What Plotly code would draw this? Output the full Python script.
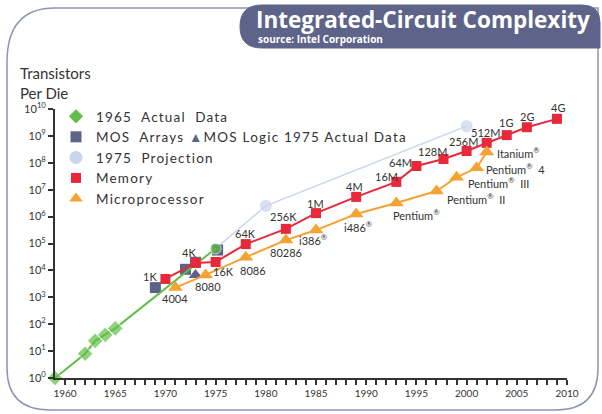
import math
import plotly.graph_objects as go

# ---------------- data ----------------
moore65_years = [1959, 1962, 1963, 1964, 1965, 1975]
moore65_vals = [1, 8, 24, 40, 70, 65000]

mos_array_years = [1969, 1972, 1973, 1975.2]
mos_array_vals = [2300, 11000, 20000, 57000]

mos_logic_years = [1973]
mos_logic_vals = [6800]

proj_years = [1975, 1980, 2000]
proj_vals = [65000, 2.5e6, 2.3e9]

mem_years = [1970, 1973, 1975, 1978, 1982, 1985, 1989, 1993, 1995, 1997.7, 2000, 2002, 2004, 2006, 2009]
mem_vals = [4800, 19000, 20500, 95000, 350000, 1.35e6, 5.4e6, 1.95e7, 7.6e7, 1.38e8, 2.75e8, 5.5e8, 1.07e9, 2.1e9, 4.3e9]
mem_labels = ["1K", "4K", "16K", "64K", "256K", "1M", "4M", "16M", "64M", "128M", "256M", "512M", "1G", "2G", "4G"]

cpu_years = [1971, 1974, 1978, 1982, 1985, 1989, 1993, 1997, 1999, 2001, 2002]
cpu_vals = [2300, 6800, 31000, 134000, 316000, 1.25e6, 3.2e6, 8.9e6, 2.9e7, 6.5e7, 2.5e8]
cpu_labels = ["4004", "8080", "8086", "80286", "i386<sup>®</sup>", "i486<sup>®</sup>", "Pentium<sup>®</sup>",
              "Pentium<sup>®</sup>  II", "Pentium<sup>®</sup>  III", "Pentium<sup>®</sup>  4", "Itanium<sup>®</sup>"]

x_tick_years = list(range(1960, 2011))
y_tick_exps = list(range(0, 11))

# ---------------- styling ----------------
W, H = 602, 414
ML, MR, MT, MB = 55, 35, 109, 36
PW, PH = W - ML - MR, H - MT - MB

GREEN = "#62be46"
SLATE = "#5d6289"
PROJ = "#c9d5ec"
RED = "#e8293a"
ORANGE = "#f6a233"
TXT = "#333333"
FONT = "Lato, 'Open Sans', sans-serif"
SPACED = "<span style='letter-spacing:1.2px'>%s</span>"

# label offsets in pixels (dx right, dy down) relative to each point
mem_off = [(-15, -2), (-7, -10), (8, 9), (0, -11), (-2, -12), (-1, -10), (-2, -10), (-10, -5), (-16, -4),
           (-11, -8), (-3, -9), (-1, -10), (-1, -13), (0, -11), (1, -11)]
cpu_off = [(0, 11), (2, 12), (7, 13), (0, 12), (-3, 9), (2, 13), (20, 11), (40, 7), (42, 5), (39, 1), (32, 0)]


def px(xp):
    return (xp - ML) / PW


def py(yp):
    return (H - MB - yp) / PH


fig = go.Figure()

fig.add_trace(go.Scatter(
    x=proj_years, y=proj_vals, mode="lines+markers", showlegend=False,
    line=dict(color=PROJ, width=1.5), marker=dict(symbol="circle", size=[0, 13, 13], color=PROJ),
    cliponaxis=False))
fig.add_trace(go.Scatter(
    x=mos_array_years, y=mos_array_vals, mode="markers", showlegend=False,
    marker=dict(symbol="square", size=11, color=SLATE), cliponaxis=False))
fig.add_trace(go.Scatter(
    x=mos_logic_years, y=mos_logic_vals, mode="markers", showlegend=False,
    marker=dict(symbol="triangle-up", size=12, color=SLATE), cliponaxis=False))
fig.add_trace(go.Scatter(
    x=moore65_years, y=moore65_vals, mode="lines+markers", showlegend=False,
    line=dict(color=GREEN, width=2),
    marker=dict(symbol=["diamond"] * 5 + ["circle"], size=[12] * 5 + [11], color=GREEN),
    cliponaxis=False))
fig.add_trace(go.Scatter(
    x=mem_years, y=mem_vals, mode="lines+markers", showlegend=False,
    line=dict(color=RED, width=2), marker=dict(symbol="square", size=10, color=RED),
    cliponaxis=False))
fig.add_trace(go.Scatter(
    x=cpu_years, y=cpu_vals, mode="lines+markers", showlegend=False,
    line=dict(color=ORANGE, width=2), marker=dict(symbol="triangle-up", size=13, color=ORANGE),
    cliponaxis=False))

legend_items = [
    (SPACED % "1965  Actual  Data", "diamond", GREEN, 11),
    (SPACED % ("MOS  Arrays <span style='color:%s'>▲</span>MOS Logic 1975 Actual Data" % SLATE), "square", SLATE, 11),
    (SPACED % "1975  Projection", "circle", PROJ, 13),
    (SPACED % "Memory", "square", RED, 10),
    (SPACED % "Microprocessor", "triangle-up", ORANGE, 12),
]
for name, sym, col, sz in legend_items:
    fig.add_trace(go.Scatter(x=[None], y=[None], mode="markers", name=name,
                             marker=dict(symbol=sym, color=col, size=sz)))

shapes = []
frame = ("M {a},{b} L {c},{b} L {c},{d} Q {c},{e} {f},{e} L {g},{e} Q {h},{e} {h},{d} L {h},{i} Q {h},{b} {a},{b} Z"
         ).format(a=px(55), b=py(8), c=px(598), d=py(368), e=py(410), f=px(556), g=px(50), h=px(7), i=py(62))
shapes.append(dict(type="path", xref="paper", yref="paper", path=frame,
                   line=dict(color="#8d94b4", width=1.5), fillcolor="rgba(0,0,0,0)", layer="below"))
tbox = ("M {a},{t} L {c},{t} Q {r},{t} {r},{m} L {r},{bb} L {a},{bb} Q {l},{bb} {l},{mm} Q {l},{t} {a},{t} Z"
        ).format(a=px(262), c=px(582), r=px(600), l=px(240), t=py(5), m=py(23), bb=py(48), mm=py(26.5))
shapes.append(dict(type="path", xref="paper", yref="paper", path=tbox,
                   line=dict(color="#5e6389", width=1), fillcolor="#5e6389", layer="above"))

annotations = [
    dict(text="<b>Integrated-Circuit Complexity</b>", xref="paper", yref="paper", x=px(254), y=py(20),
         xanchor="left", yanchor="middle", showarrow=False,
         font=dict(size=22.5, color="white", family="'Open Sans', sans-serif")),
    dict(text="<b>source: Intel Corporation</b>", xref="paper", yref="paper", x=px(256), y=py(38.5),
         xanchor="left", yanchor="middle", showarrow=False,
         font=dict(size=10, color="white", family="'Open Sans', sans-serif")),
    dict(text="Transistors<br>Per Die", xref="paper", yref="paper", x=px(18), y=py(62),
         xanchor="left", yanchor="top", align="left", showarrow=False,
         font=dict(size=15, color=TXT, family=FONT)),
]

for yr, v, lab, (dx, dy) in zip(mem_years, mem_vals, mem_labels, mem_off):
    annotations.append(dict(text=lab, x=yr, y=math.log10(v), xref="x", yref="y", showarrow=False,
                            xanchor="center", yanchor="middle", xshift=dx, yshift=-dy,
                            font=dict(size=11, color=TXT, family=FONT)))
for yr, v, lab, (dx, dy) in zip(cpu_years, cpu_vals, cpu_labels, cpu_off):
    annotations.append(dict(text=lab, x=yr, y=math.log10(v), xref="x", yref="y", showarrow=False,
                            xanchor="center", yanchor="middle", xshift=dx, yshift=-dy,
                            font=dict(size=11, color=TXT, family=FONT)))

fig.update_layout(
    width=W, height=H, margin=dict(l=ML, r=MR, t=MT, b=MB, autoexpand=False),
    paper_bgcolor="white", plot_bgcolor="white",
    font=dict(family=FONT, color=TXT),
    shapes=shapes, annotations=annotations,
    legend=dict(x=px(56), y=py(101), xanchor="left", yanchor="top", bgcolor="rgba(0,0,0,0)",
                font=dict(size=13.5, color=TXT, family=FONT), tracegroupgap=0, itemwidth=30),
    xaxis=dict(range=[1959, 2010], tickvals=x_tick_years,
               ticktext=[str(y) if y % 5 == 0 else "" for y in x_tick_years],
               ticks="outside", ticklen=5, tickwidth=1.5, tickcolor=TXT,
               showline=True, linecolor=TXT, linewidth=2, showgrid=False, zeroline=False,
               automargin=False, tickfont=dict(size=10, color=TXT, family=FONT)),
    yaxis=dict(type="log", range=[0, 10], tickvals=[10 ** e for e in y_tick_exps],
               ticktext=["10<sup>%d</sup>" % e for e in y_tick_exps],
               ticks="outside", ticklen=5, tickwidth=2, tickcolor=TXT,
               showline=True, linecolor=TXT, linewidth=2, showgrid=False, zeroline=False,
               automargin=False, tickfont=dict(size=11, color=TXT, family=FONT)),
)

fig.write_html("out.html", config={"displayModeBar": False},
               post_script="document.body.style.margin='0';document.body.style.overflow='hidden';")
